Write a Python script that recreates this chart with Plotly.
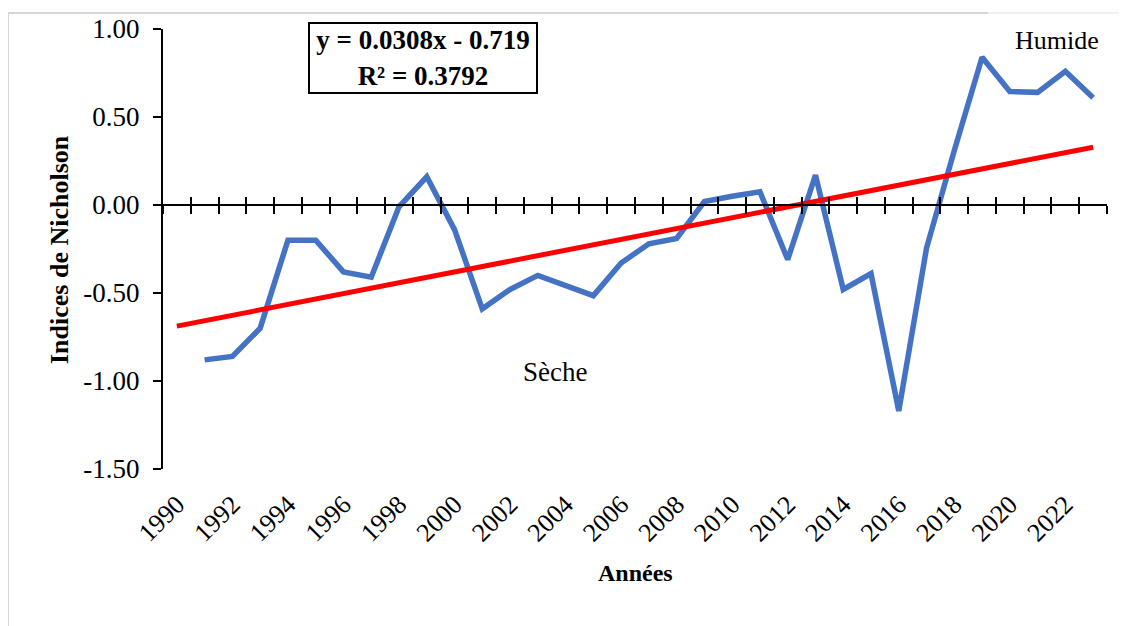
import plotly.graph_objects as go

# ---- data ----
years = [1990, 1991, 1992, 1993, 1994, 1995, 1996, 1997, 1998, 1999,
         2000, 2001, 2002, 2003, 2004, 2005, 2006, 2007, 2008, 2009,
         2010, 2011, 2012, 2013, 2014, 2015, 2016, 2017, 2018, 2019,
         2020, 2021, 2022, 2023]
nicholson = [None, -0.88, -0.86, -0.70, -0.20, -0.20, -0.38, -0.41, -0.01, 0.16,
             -0.14, -0.59, -0.48, -0.40, -0.46, -0.515, -0.33, -0.22, -0.19, 0.02,
             0.05, 0.075, -0.31, 0.17, -0.48, -0.39, -1.17, -0.245, 0.31, 0.84,
             0.645, 0.64, 0.76, 0.61]
label_years = [1990, 1992, 1994, 1996, 1998, 2000, 2002, 2004, 2006, 2008,
               2010, 2012, 2014, 2016, 2018, 2020, 2022]
trend_slope = 0.0308
trend_intercept = -0.719
y_ticks = [-1.5, -1.0, -0.5, 0.0, 0.5, 1.0]
y_ticktext = ["-1.50", "-1.00", "-0.50", "0.00", "0.50", "1.00"]

# trend line from the chart's equation (x = category index 1..N)
trend_x = [years[0], years[-1]]
trend_y = [trend_slope * (yr - years[0] + 1) + trend_intercept for yr in trend_x]
boundaries = [yr - 0.5 for yr in years] + [years[-1] + 0.5]

W, H = 1127, 626
OFF = 8  # page body margin
L, R, T, B = 163, 1107, 29, 469   # target plot area in screenshot pixels
FONT = "Liberation Serif"


def px(x):
    return (x - L) / (R - L)


def py(y):
    return (B - y) / (B - T)


fig = go.Figure()
fig.add_trace(go.Scatter(x=years, y=nicholson, mode="lines",
                         line=dict(color="#4472C4", width=5.5), connectgaps=False,
                         hoverinfo="skip", showlegend=False))
fig.add_trace(go.Scatter(x=trend_x, y=trend_y, mode="lines",
                         line=dict(color="#FF0000", width=5),
                         hoverinfo="skip", showlegend=False))
# invisible traces so the crossing-tick axes at y = 0 are drawn
for ax in ["x2", "x3"]:
    fig.add_trace(go.Scatter(x=[years[0]], y=[0], xaxis=ax, mode="markers",
                             marker=dict(opacity=0), hoverinfo="skip", showlegend=False))

xr = [years[0] - 0.5, years[-1] + 0.5]
zero_pos = (0 - y_ticks[0]) / (y_ticks[-1] - y_ticks[0])

fig.update_layout(
    width=W, height=H,
    margin=dict(l=L - OFF, r=W - (R - OFF), t=T - OFF, b=H - (B - OFF), autoexpand=False),
    paper_bgcolor="white", plot_bgcolor="white",
    font=dict(family=FONT, color="black"),
    xaxis=dict(range=xr, tickvals=label_years, ticktext=[str(v) for v in label_years],
               tickangle=-45, ticks="", showline=False, showgrid=False, zeroline=False,
               tickfont=dict(size=26, family=FONT), ticklabelstandoff=14,
               ticklabelshift=0, automargin=False),
    xaxis2=dict(range=xr, overlaying="x", anchor="free", position=zero_pos,
                tickvals=boundaries, showticklabels=False, ticks="outside", ticklen=8,
                tickwidth=2, tickcolor="black", showline=True, linecolor="black",
                linewidth=2, showgrid=False, zeroline=False, automargin=False),
    xaxis3=dict(range=xr, overlaying="x", anchor="free", position=zero_pos,
                tickvals=boundaries, showticklabels=False, ticks="inside", ticklen=8,
                tickwidth=2, tickcolor="black", showline=False, showgrid=False,
                zeroline=False, automargin=False),
    yaxis=dict(range=[y_ticks[0], y_ticks[-1]], tickvals=y_ticks, ticktext=y_ticktext,
               ticks="outside", ticklen=8, tickwidth=2, tickcolor="black",
               showline=True, linecolor="black", linewidth=2, showgrid=False,
               zeroline=False, tickfont=dict(size=27, family=FONT), ticklabelstandoff=8,
               automargin=False),
    shapes=[
        dict(type="line", xref="paper", yref="paper", x0=px(8), x1=px(8), y0=py(13), y1=py(660),
             line=dict(color="#D6D6D6", width=2)),
        dict(type="line", xref="paper", yref="paper", x0=px(8), x1=px(988), y0=py(13), y1=py(13),
             line=dict(color="#D6D6D6", width=2)),
        dict(type="line", xref="paper", yref="paper", x0=px(988), x1=px(1160), y0=py(13), y1=py(13),
             line=dict(color="#EBEBEB", width=1.5)),
    ],
    annotations=[
        dict(text="<b>y = 0.0308x - 0.719<br>R² = 0.3792</b>", xref="paper", yref="paper",
             x=px(423), y=py(58), xanchor="center", yanchor="middle", showarrow=False,
             font=dict(size=27, family=FONT), bordercolor="black", borderwidth=2,
             bgcolor="white", width=224, height=66, align="center"),
        dict(text="Humide", xref="paper", yref="paper", x=px(1057), y=py(40),
             xanchor="center", yanchor="middle", showarrow=False,
             font=dict(size=26, family=FONT)),
        dict(text="Sèche", xref="paper", yref="paper", x=px(555), y=py(372),
             xanchor="center", yanchor="middle", showarrow=False,
             font=dict(size=27, family=FONT)),
        dict(text="<b>Années</b>", xref="paper", yref="paper", x=px(635), y=py(573),
             xanchor="center", yanchor="middle", showarrow=False,
             font=dict(size=24, family=FONT)),
        dict(text="<b>Indices de Nicholson</b>", xref="paper", yref="paper", x=px(60), y=py(250),
             xanchor="center", yanchor="middle", showarrow=False, textangle=-90,
             font=dict(size=26, family=FONT)),
    ],
)

fig.write_html("out.html")
